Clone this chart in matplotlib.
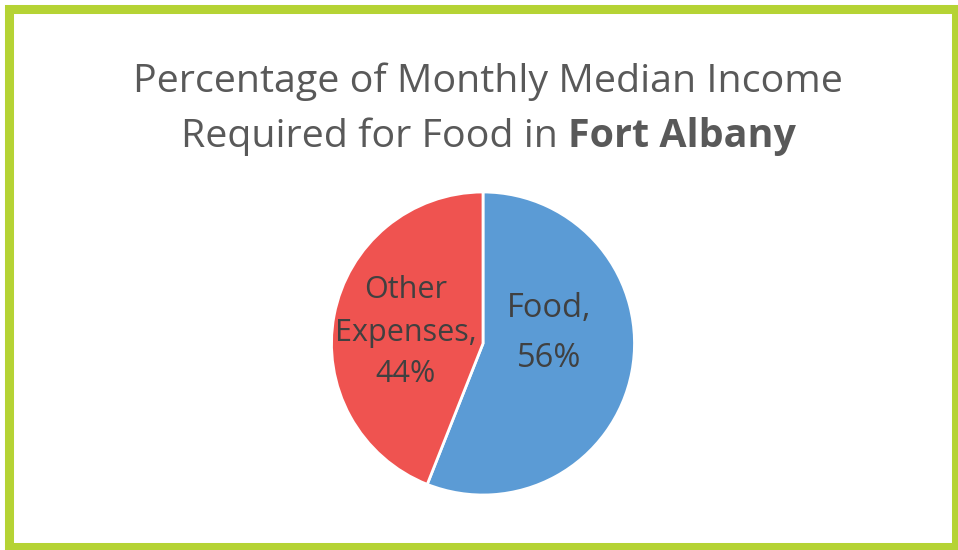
import matplotlib
matplotlib.use('Agg')
import matplotlib.pyplot as plt
from matplotlib.patches import Rectangle

# data
categories = ['Food', 'Other Expenses']
shares = [56, 44]
label_lines = [['Food,', '56%'], ['Other', 'Expenses,', '44%']]
colors = ['#5B9BD5', '#EF5350']

W, H = 958, 550
fig = plt.figure(figsize=(W / 100, H / 100), dpi=100)
fig.patch.set_facecolor('white')

# green frame
fig.patches.append(Rectangle((8.5 / W, 1 - 547 / H), (956 - 8.5) / W, (547 - 9) / H,
                             transform=fig.transFigure, fill=False,
                             edgecolor='#B5D334', linewidth=6.5))

font = 'Open Sans'
title_col = '#595959'
tsize = 28.4

# title, line 1
fig.text(487.5 / W, 1 - 92 / H, 'Percentage of Monthly Median Income', ha='center',
         va='baseline', fontsize=tsize, color=title_col, family=font)

# title, line 2 with bold part
r = fig.canvas.get_renderer()
t1 = fig.text(0, 1 - 147 / H, 'Required for Food in ', ha='left', va='baseline',
              fontsize=tsize, color=title_col, family=font)
t2 = fig.text(0, 1 - 147 / H, 'Fort Albany', ha='left', va='baseline',
              fontsize=tsize, color=title_col, family=font, weight='bold')
w1 = t1.get_window_extent(r).width
w2 = t2.get_window_extent(r).width
x0 = 488.5 - (w1 + w2) / 2
t1.set_x(x0 / W)
t2.set_x((x0 + w1) / W)

# pie
cx, cy, rad = 483, 343.5, 151.5
ax = fig.add_axes([(cx - rad) / W, 1 - (cy + rad) / H, 2 * rad / W, 2 * rad / H])
ax.pie(shares, colors=colors, startangle=90, counterclock=False, radius=1,
       wedgeprops=dict(edgecolor='white', linewidth=2))
ax.set_xlim(-1, 1)
ax.set_ylim(-1, 1)
ax.set_aspect('equal')
ax.axis('off')

# slice labels: centre x, line baselines in pixels, font size
label_x = [549, 406]
label_base = [[317, 367], [298, 341, 382]]
label_size = [23.5, 22]
for lines, lx, bases, sz in zip(label_lines, label_x, label_base, label_size):
    for line, by in zip(lines, bases):
        fig.text(lx / W, 1 - by / H, line, ha='center', va='baseline', fontsize=sz,
                 color='#404040', family=font)

fig.savefig('out.png', dpi=100)
